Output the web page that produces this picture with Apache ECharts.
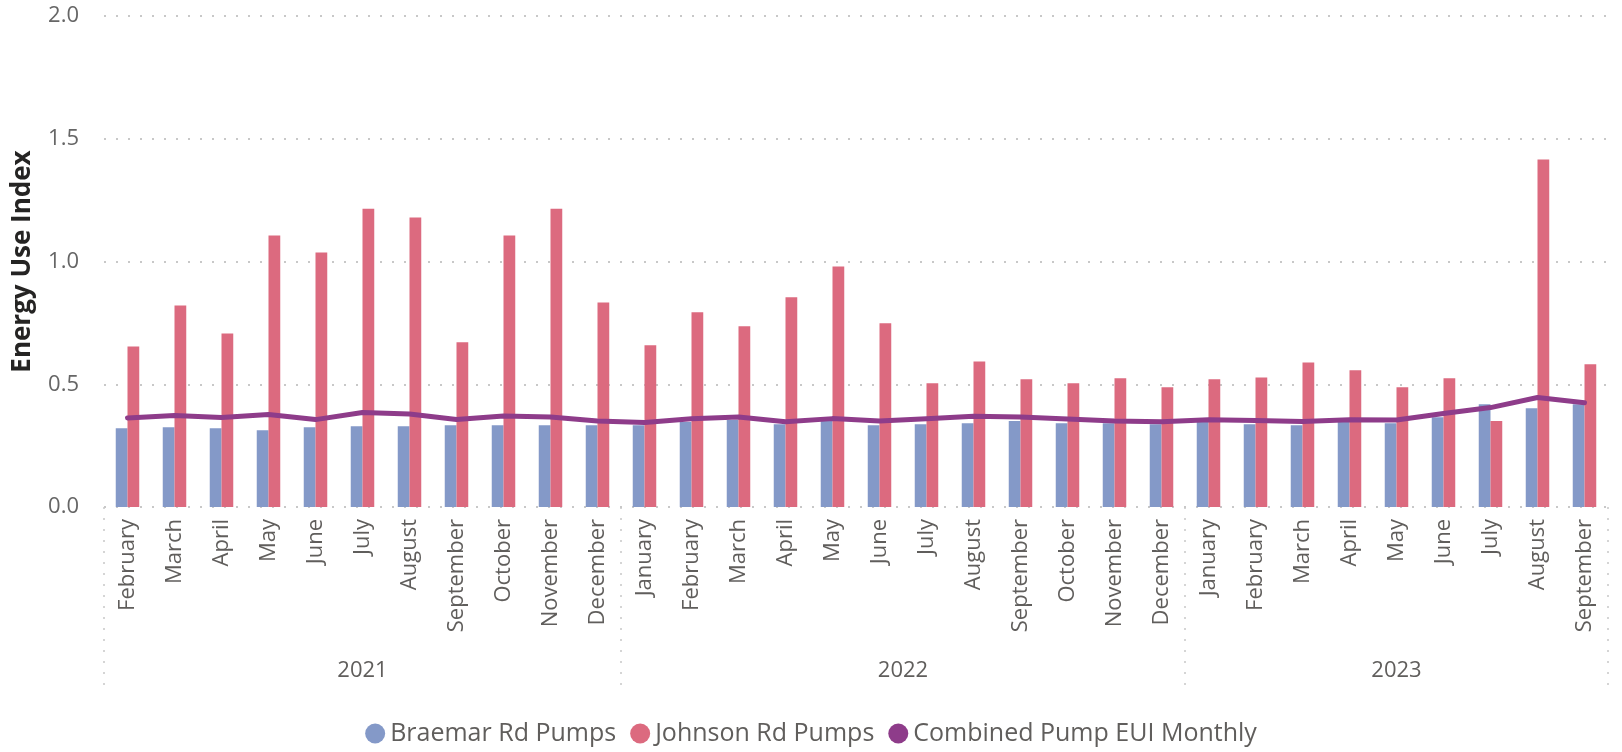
<!DOCTYPE html>
<html>
<head>
<meta charset="utf-8">
<style>
  html, body { margin: 0; padding: 0; background: #fff; }
  #main { width: 1622px; height: 752px; }
</style>
<script src="https://cdn.jsdelivr.net/npm/echarts@6/dist/echarts.min.js"></script>
</head>
<body>
<div id="main"></div>
<script>
const months2021 = ['February', 'March', 'April', 'May', 'June', 'July', 'August', 'September', 'October', 'November', 'December'];
const months2022 = ['January', 'February', 'March', 'April', 'May', 'June', 'July', 'August', 'September', 'October', 'November', 'December'];
const months2023 = ['January', 'February', 'March', 'April', 'May', 'June', 'July', 'August', 'September'];
const years = ['2021', '2022', '2023'];

// Braemar Rd Pumps
const braemar2021 = [0.321, 0.325, 0.321, 0.313, 0.325, 0.329, 0.329, 0.333, 0.333, 0.333, 0.333];
const braemar2022 = [0.333, 0.346, 0.354, 0.337, 0.350, 0.333, 0.337, 0.341, 0.350, 0.341, 0.341, 0.337];
const braemar2023 = [0.346, 0.337, 0.333, 0.346, 0.341, 0.366, 0.419, 0.402, 0.419];

// Johnson Rd Pumps
const johnson2021 = [0.654, 0.821, 0.707, 1.106, 1.037, 1.215, 1.179, 0.671, 1.106, 1.215, 0.833];
const johnson2022 = [0.659, 0.793, 0.736, 0.854, 0.980, 0.748, 0.504, 0.593, 0.520, 0.504, 0.524, 0.488];
const johnson2023 = [0.520, 0.528, 0.589, 0.557, 0.488, 0.524, 0.350, 1.415, 0.581];

// Combined Pump EUI Monthly
const combined2021 = [0.363, 0.373, 0.365, 0.377, 0.356, 0.385, 0.379, 0.356, 0.371, 0.367, 0.350];
const combined2022 = [0.344, 0.359, 0.367, 0.347, 0.360, 0.350, 0.359, 0.370, 0.367, 0.358, 0.350, 0.347];
const combined2023 = [0.355, 0.352, 0.348, 0.355, 0.354, 0.381, 0.405, 0.446, 0.425];

const yTicks = [0, 0.5, 1.0, 1.5, 2.0];

const monthGroups = [months2021, months2022, months2023];
const categories = [].concat(months2021, months2022, months2023);
const braemar = [].concat(braemar2021, braemar2022, braemar2023);
const johnson = [].concat(johnson2021, johnson2022, johnson2023);
const combined = [].concat(combined2021, combined2022, combined2023);

// where each year starts, and where its label goes
const yearStart = [];
const yearLabelAt = {};
let pos = 0;
monthGroups.forEach((m, i) => {
    yearStart.push(pos);
    const c = pos + (m.length - 1) / 2;
    yearLabelAt[Math.floor(c)] = { text: years[i], half: c % 1 !== 0 };
    pos += m.length;
});

const textFont = '"Open Sans", "Noto Sans", sans-serif';
const grey = '#605E5C';
const dotted = { color: '#c8c8c8', width: 2, type: [2, 10] };

const chart = echarts.init(document.querySelector('#main'));

let option = {
    animation: false,
    color: ['#8499C8', '#DC6A7F', '#8E3C8A'],
    grid: { left: 104, right: 14, top: 16, bottom: 245, containLabel: false },
    legend: {
        data: ['Braemar Rd Pumps', 'Johnson Rd Pumps', 'Combined Pump EUI Monthly'],
        left: 'center',
        top: 721,
        padding: 0,
        icon: 'circle',
        itemWidth: 20,
        itemHeight: 20,
        itemGap: 14,
        textStyle: { fontFamily: textFont, fontSize: 25, color: grey }
    },
    xAxis: [
        {
            type: 'category',
            data: categories,
            axisLine: { show: false },
            axisTick: { show: false },
            axisLabel: {
                interval: 0,
                rotate: 90,
                margin: 12,
                fontFamily: textFont,
                fontSize: 22,
                color: grey
            }
        },
        {
            type: 'category',
            data: categories,
            position: 'bottom',
            axisLine: { show: false },
            axisTick: {
                show: true,
                interval: (index) => yearStart.includes(index),
                length: 178,
                lineStyle: { color: '#c8c8c8', width: 1.5, type: [2, 9] }
            },
            axisLabel: {
                interval: (index) => yearLabelAt[index] !== undefined,
                margin: 153,
                fontFamily: textFont,
                fontSize: 22,
                color: grey,
                formatter: (value, index) => {
                    const y = yearLabelAt[index];
                    if (!y) return '';
                    return y.half ? '{shift|' + y.text + '}' : y.text;
                },
                rich: {
                    shift: { padding: [0, 0, 0, 47], fontFamily: textFont, fontSize: 22, color: grey }
                }
            }
        }
    ],
    yAxis: {
        type: 'value',
        min: 0,
        max: 2,
        interval: 0.5,
        name: 'Energy Use Index',
        nameLocation: 'middle',
        nameGap: 68,
        nameTextStyle: { fontFamily: textFont, fontSize: 26, fontWeight: 'bold', color: '#252423' },
        axisLine: { show: false },
        axisTick: { show: false },
        splitLine: { show: true, lineStyle: dotted },
        axisLabel: {
            margin: 25,
            fontFamily: textFont,
            fontSize: 22,
            color: '#666',
            formatter: (v) => yTicks.includes(v) ? v.toFixed(1) : ''
        }
    },
    series: [
        {
            name: 'Braemar Rd Pumps',
            type: 'bar',
            data: braemar,
            barGap: '0%',
            barCategoryGap: '50%'
        },
        {
            name: 'Johnson Rd Pumps',
            type: 'bar',
            data: johnson,
            barGap: '0%',
            barCategoryGap: '50%'
        },
        {
            name: 'Combined Pump EUI Monthly',
            type: 'line',
            data: combined,
            showSymbol: false,
            symbol: 'circle',
            lineStyle: { width: 5, cap: 'round', join: 'round' },
            z: 5
        }
    ]
};
chart.setOption(option);
</script>
</body>
</html>
